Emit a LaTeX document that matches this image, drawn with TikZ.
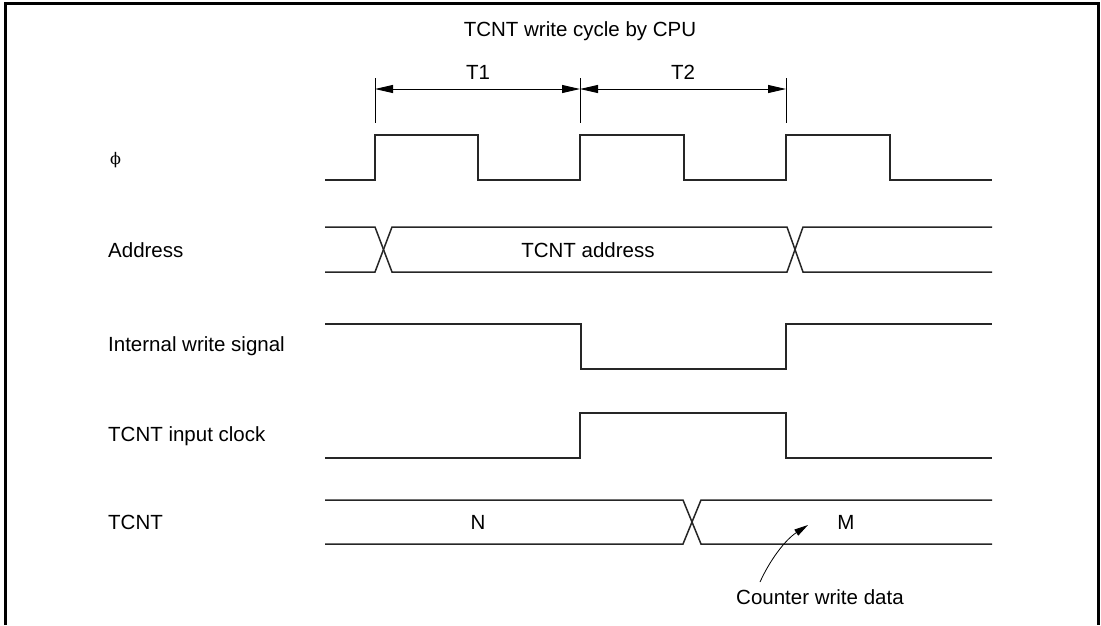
\documentclass[tikz,border=0pt]{standalone}
\usepackage{fontspec}
\setmainfont{Liberation Sans}
\newfontfamily\phifont{DejaVu Serif}
\usetikzlibrary{arrows.meta,positioning}

\begin{document}
\begin{tikzpicture}[x=1pt,y=-1pt,>={Triangle[length=18pt,width=8pt]},
  sig/.style={line width=1.5pt,draw=black!85},
  lbl/.style={anchor=west,inner sep=0pt,font=\fontsize{20.5}{24}\selectfont},
  txt/.style={inner sep=0pt,font=\fontsize{20.5}{24}\selectfont}]
\useasboundingbox (0,0) rectangle (1101,625);
\draw[line width=3pt] (5,625) -- (5,3) -- (1098,3) -- (1098,625);
% cycle marks
\node[txt] (ttl) at (580,31) {TCNT write cycle by CPU};
\node[txt] (tone) at (478,72) {T1};
\node[txt] (ttwo) at (683,72) {T2};
\coordinate (m0) at (375,89); \coordinate (m1) at (580,89); \coordinate (m2) at (786,89);
\draw[line width=0.9pt] (375,78) -- (375,123) (580,78) -- (580,123) (786,78) -- (786,123);
\draw[<->,line width=0.9pt] (m0) -- (m1);
\draw[<->,line width=0.9pt] (m1) -- (m2);
% signal names
\node[lbl,font=\phifont\fontsize{16}{20}\selectfont] (phi) at (110,160) {ϕ};
\node[lbl] (addr) at (108,250) {Address};
\node[lbl] (wr) at (108,346) {Internal write signal};
\node[lbl] (clk) at (108,436) {TCNT input clock};
\node[lbl] (cnt) at (108,522) {TCNT};
% waveforms
\draw[sig] (325,180) -- (375,180) -- (375,135) -- (478,135) -- (478,180) -- (580,180) -- (580,135) -- (684,135) -- (684,180) -- (786,180) -- (786,135) -- (890,135) -- (890,180) -- (992,180);
\draw[sig] (325,227) -- (375,227) -- (392,272) -- (787,272) -- (803,227) -- (992,227);
\draw[sig] (325,272) -- (375,272) -- (392,227) -- (787,227) -- (803,272) -- (992,272);
\node[txt] (adtxt) at (588,250) {TCNT address};
\draw[sig] (325,324) -- (581,324) -- (581,369) -- (786,369) -- (786,324) -- (992,324);
\draw[sig] (325,458) -- (580,458) -- (580,413) -- (786,413) -- (786,458) -- (992,458);
\draw[sig] (325,500) -- (683,500) -- (701,544) -- (992,544);
\draw[sig] (325,544) -- (683,544) -- (701,500) -- (992,500);
\node[txt] (nval) at (478,522) {N};
\node[txt] (mval) at (846,522) {M};
% write data note
\node[lbl] (cwd) at (736,597) {Counter write data};
\coordinate (ctail) at (760,582);
\coordinate (mtip) at (808,525);
\draw[->,>={Triangle[length=14pt,width=7pt]},line width=0.8pt] (ctail) .. controls (770,560) and (785,540) .. (mtip);
\end{tikzpicture}
\end{document}
